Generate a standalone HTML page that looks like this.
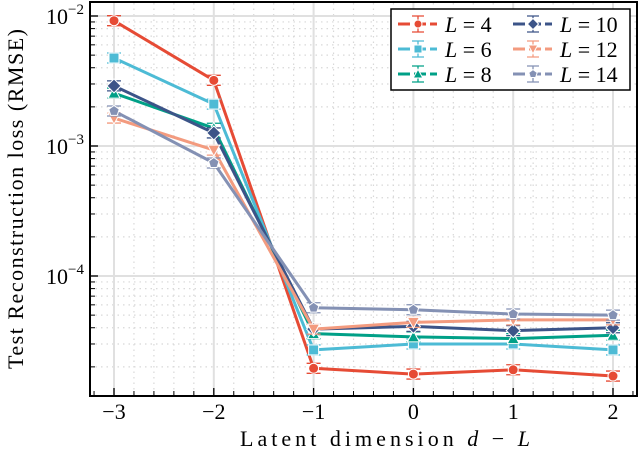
<!DOCTYPE html>
<html><head><meta charset="utf-8"><style>
body{margin:0;background:#fff;}
svg{display:block;font-family:"Liberation Serif","DejaVu Serif",serif;}
</style></head><body>
<svg id="chart" width="640" height="450" viewBox="0 0 640 450" xmlns="http://www.w3.org/2000/svg">
<g id="grid"></g>
<g id="axes"></g>
<g id="series"></g>
<rect x="90" y="2" width="547" height="394" fill="none" stroke="#000" stroke-width="2"/>
<text x="385" y="446" font-size="22" text-anchor="middle" textLength="290" lengthAdjust="spacing">Latent dimension <tspan font-style="italic">d</tspan> − <tspan font-style="italic">L</tspan></text>
<text transform="translate(23,199) rotate(-90)" font-size="22" text-anchor="middle" textLength="340" lengthAdjust="spacing">Test Reconstruction loss (RMSE)</text>
<g id="legend"></g>
</svg>
<script>
const categories=[-3,-2,-1,0,1,2];
const seriesNames=["L = 4","L = 6","L = 8","L = 10","L = 12","L = 14"];
const L4=[9.2e-3,3.2e-3,1.95e-5,1.76e-5,1.9e-5,1.7e-5];
const L6=[4.75e-3,2.1e-3,2.7e-5,3.0e-5,3.0e-5,2.7e-5];
const L8=[2.55e-3,1.37e-3,3.6e-5,3.4e-5,3.3e-5,3.5e-5];
const L10=[2.9e-3,1.26e-3,3.9e-5,4.1e-5,3.8e-5,4.0e-5];
const L12=[1.64e-3,9.3e-4,3.9e-5,4.4e-5,4.6e-5,4.6e-5];
const L14=[1.86e-3,7.4e-4,5.7e-5,5.5e-5,5.1e-5,5.0e-5];
const yTicks=[1e-2,1e-3,1e-4];
const yTickLabels=["-2","-3","-4"];
const xTickLabels=["−3","−2","−1","0","1","2"];
const colors=["#e64b35","#4dbbd5","#00a087","#3c5488","#f39b7f","#8491b4"];
const shapes=["circle","square","tri","diamond","trid","pent"];
const data=[L4,L6,L8,L10,L12,L14];
const NS="http://www.w3.org/2000/svg";
const X=v=>114+(v+3)*99.8;
const Y=v=>16-(Math.log10(v)+2)*130;
function mk(tag,attrs,parent){const e=document.createElementNS(NS,tag);for(const k in attrs)e.setAttribute(k,attrs[k]);parent.appendChild(e);return e;}
const grid=document.getElementById('grid'),axes=document.getElementById('axes'),ser=document.getElementById('series'),leg=document.getElementById('legend');
for(let d=-5;d<=-2;d++){for(let m=2;m<=9;m++){const v=m*Math.pow(10,d);const y=Y(v);if(y<3||y>395)continue;
const g=mk('line',{x1:90,x2:637,y1:y,y2:y,stroke:'#d8d8d8','stroke-width':1.2,'stroke-dasharray':'1.5,4'},grid);

const t=mk('line',{x1:90,x2:95,y1:y,y2:y,stroke:'#000','stroke-width':1},axes);
}}
for(let i=0;i<categories.length-1;i++){for(let k=1;k<5;k++){const x=X(categories[i]+k*0.2);
const g=mk('line',{x1:x,x2:x,y1:3,y2:395,stroke:'#d8d8d8','stroke-width':1.2,'stroke-dasharray':'1.5,4'},grid);

const t=mk('line',{x1:x,x2:x,y1:396,y2:391,stroke:'#000','stroke-width':1},axes);
}}
[-3.2,-3.4,-3.6,-3.8,2.2].forEach(v=>{const x=X(v);if(x<91)return;const t=mk('line',{x1:x,x2:x,y1:396,y2:391,stroke:'#000','stroke-width':1},axes);});
yTicks.forEach((v,i)=>{const y=Y(v);
const g=mk('line',{x1:90,x2:637,y1:y,y2:y,stroke:'#e0e0e0','stroke-width':2},grid);

const t=mk('line',{x1:90,x2:98,y1:y,y2:y,stroke:'#000','stroke-width':1.3},axes);

const tx=mk('text',{x:84,y:y+8,'font-size':22,'text-anchor':'end'},axes);

tx.innerHTML='10<tspan dy="-10" font-size="15">−'+yTickLabels[i].slice(1)+'</tspan>';});
categories.forEach((c,i)=>{const x=X(c);
const g=mk('line',{x1:x,x2:x,y1:3,y2:395,stroke:'#e0e0e0','stroke-width':2},grid);

const t=mk('line',{x1:x,x2:x,y1:396,y2:388,stroke:'#000','stroke-width':1.3},axes);

const tx=mk('text',{x:x,y:419,'font-size':22,'text-anchor':'middle'},axes);

tx.textContent=xTickLabels[i];});
function marker(shape,x,y,col,p,s){s=s||1;let e;
if(shape==='circle')e=mk('circle',{cx:x,cy:y,r:5*s},p);
else if(shape==='square')e=mk('rect',{x:x-5*s,y:y-5*s,width:10*s,height:10*s},p);
else if(shape==='tri')e=mk('polygon',{points:`${x},${y-6*s} ${x+6*s},${y+5*s} ${x-6*s},${y+5*s}`},p);
else if(shape==='trid')e=mk('polygon',{points:`${x},${y+6*s} ${x+6*s},${y-5*s} ${x-6*s},${y-5*s}`},p);
else if(shape==='diamond')e=mk('polygon',{points:`${x},${y-7*s} ${x+7*s},${y} ${x},${y+7*s} ${x-7*s},${y}`},p);
else{let pts=[];for(let k=0;k<5;k++){const a=-Math.PI/2+k*2*Math.PI/5;pts.push((x+5.5*s*Math.cos(a))+','+(y+5.5*s*Math.sin(a)));}e=mk('polygon',{points:pts.join(' ')},p);}
e.setAttribute('fill',col);e.setAttribute('stroke','#fff');e.setAttribute('stroke-width',1);return e;}
data.forEach((vals,si)=>{const col=colors[si];
const g=mk('g',{},ser);
const pts=vals.map((v,i)=>X(categories[i])+','+Y(v)).join(' ');
const pl=mk('polyline',{points:pts,fill:'none',stroke:col,'stroke-width':3,'stroke-linejoin':'round'},g);

vals.forEach((v,i)=>{const x=X(categories[i]),y=Y(v);
const eb=mk('path',{d:`M${x},${y-5}V${y+5}M${x-7},${y-5}H${x+7}M${x-7},${y+5}H${x+7}`,stroke:col,'stroke-width':1.3,fill:'none'},g);

const m=marker(shapes[si],x,y,col,g);
});});
const lb=mk('rect',{x:391,y:9,width:239,height:81,fill:'#fff',stroke:'#000','stroke-width':1.5},leg);

seriesNames.forEach((n,i)=>{const col=i<3?0:1,row=i%3;const x0=col?513:398,y=24+row*25;
const g=mk('g',{},leg);
mk('line',{x1:x0,x2:x0+39,y1:y,y2:y,stroke:colors[i],'stroke-width':3,'stroke-dasharray':'12,4'},g);
mk('path',{d:`M${x0+20},${y-8}V${y+8}M${x0+14},${y-8}H${x0+26}M${x0+14},${y+8}H${x0+26}`,stroke:colors[i],'stroke-width':1.3},g);
marker(shapes[i],x0+20,y,colors[i],g,0.8);
const t=mk('text',{x:x0+47,y:y+8,'font-size':22},g);
t.innerHTML='<tspan font-style="italic">L</tspan> = '+n.split('= ')[1];});
</script>
</body></html>
